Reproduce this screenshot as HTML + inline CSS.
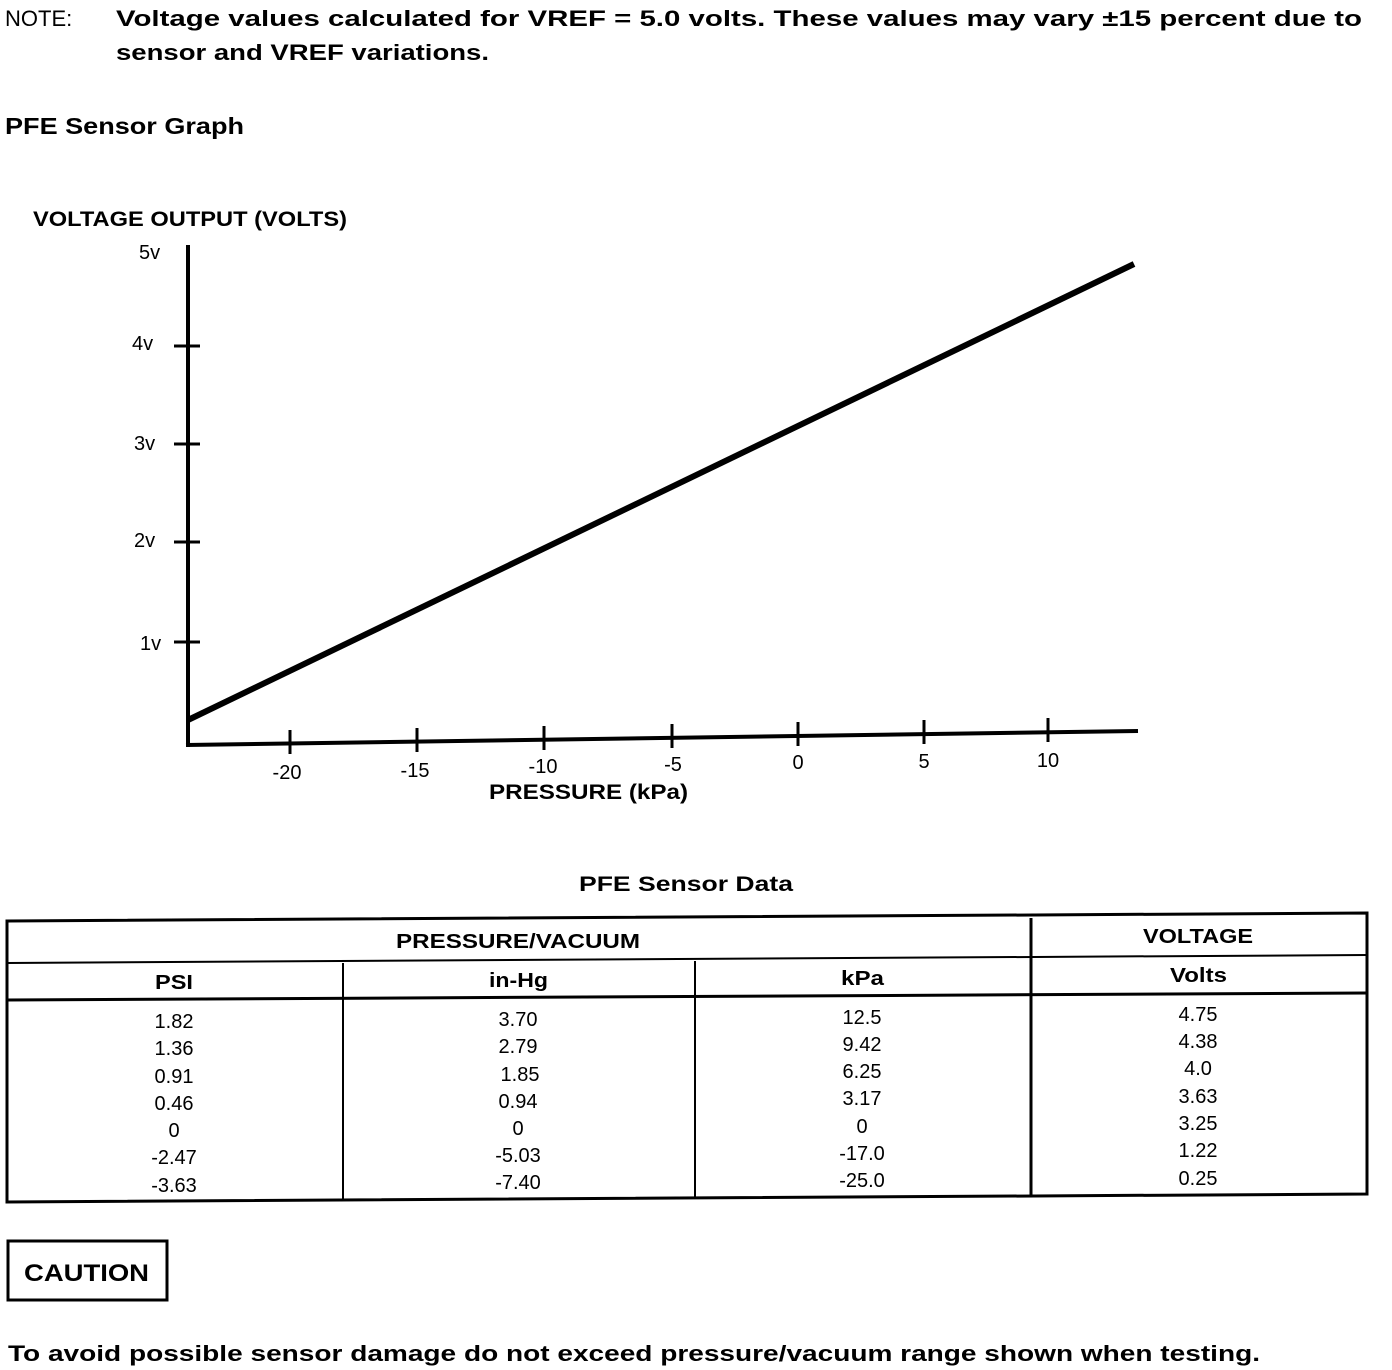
<!DOCTYPE html>
<html><head><style>
html,body{margin:0;padding:0;background:#fff;}
svg{display:block;}
text{font-family:"Liberation Sans",Arial,sans-serif;fill:#000;}
.b{font-weight:bold;}
</style></head><body>
<svg width="1392" height="1370" viewBox="0 0 1392 1370" xmlns="http://www.w3.org/2000/svg">
<text x="5" y="26" font-size="22">NOTE:</text>
<text x="116" y="26" font-size="22" class="b" textLength="1246" lengthAdjust="spacingAndGlyphs">Voltage values calculated for VREF = 5.0 volts. These values may vary ±15 percent due to</text>
<text x="116" y="60" font-size="22" class="b" textLength="373" lengthAdjust="spacingAndGlyphs">sensor and VREF variations.</text>
<text x="5" y="134" font-size="23" class="b" textLength="239" lengthAdjust="spacingAndGlyphs">PFE Sensor Graph</text>
<text x="33" y="226" font-size="21" class="b" textLength="314" lengthAdjust="spacingAndGlyphs">VOLTAGE OUTPUT (VOLTS)</text>
<line x1="188" y1="245" x2="188" y2="747" stroke="#000" stroke-width="4"/>
<line x1="186" y1="745" x2="1138" y2="731" stroke="#000" stroke-width="4"/>
<g stroke="#000" stroke-width="3">
<line x1="174" y1="346" x2="200" y2="346"/>
<line x1="174" y1="444" x2="200" y2="444"/>
<line x1="174" y1="542" x2="200" y2="542"/>
<line x1="174" y1="642" x2="200" y2="642"/>
<line x1="290" y1="730" x2="290" y2="754"/>
<line x1="417" y1="728" x2="417" y2="752"/>
<line x1="544" y1="726" x2="544" y2="750"/>
<line x1="672" y1="724" x2="672" y2="748"/>
<line x1="798" y1="722" x2="798" y2="746"/>
<line x1="924" y1="720" x2="924" y2="744"/>
<line x1="1048" y1="718" x2="1048" y2="742"/>
</g>
<g font-size="20">
<text x="139" y="259">5v</text>
<text x="132" y="350">4v</text>
<text x="134" y="450">3v</text>
<text x="134" y="547">2v</text>
<text x="140" y="650">1v</text>
</g>
<g font-size="20" text-anchor="middle">
<text x="287" y="779">-20</text>
<text x="415" y="777">-15</text>
<text x="543" y="773">-10</text>
<text x="673" y="771">-5</text>
<text x="798" y="769">0</text>
<text x="924" y="768">5</text>
<text x="1048" y="767">10</text>
</g>
<text x="489" y="799" font-size="21" class="b" textLength="199" lengthAdjust="spacingAndGlyphs">PRESSURE (kPa)</text>
<line x1="188" y1="720" x2="1134" y2="264" stroke="#000" stroke-width="6"/>
<text x="579" y="891" font-size="21" class="b" textLength="214" lengthAdjust="spacingAndGlyphs">PFE Sensor Data</text>
<g stroke="#000" fill="none">
<polygon points="7,921 1367,913 1367,1194 7,1202" stroke-width="3"/>
<line x1="7" y1="963" x2="1367" y2="955" stroke-width="2"/>
<line x1="7" y1="1000" x2="1367" y2="993" stroke-width="3"/>
<line x1="343" y1="963" x2="343" y2="1201" stroke-width="2"/>
<line x1="695" y1="961" x2="695" y2="1198" stroke-width="2"/>
<line x1="1031" y1="918" x2="1031" y2="1196" stroke-width="3"/>
</g>
<g font-size="20" class="b">
<text x="396" y="948" textLength="244" lengthAdjust="spacingAndGlyphs">PRESSURE/VACUUM</text>
<text x="1143" y="943" textLength="110" lengthAdjust="spacingAndGlyphs">VOLTAGE</text>
<text x="155" y="989" textLength="38" lengthAdjust="spacingAndGlyphs">PSI</text>
<text x="489" y="987" textLength="59" lengthAdjust="spacingAndGlyphs">in-Hg</text>
<text x="841" y="985" textLength="43" lengthAdjust="spacingAndGlyphs">kPa</text>
<text x="1170" y="982" textLength="57" lengthAdjust="spacingAndGlyphs">Volts</text>
</g>
<g font-size="20" text-anchor="middle">
<text x="174" y="1028">1.82</text><text x="174" y="1055">1.36</text><text x="174" y="1083">0.91</text><text x="174" y="1110">0.46</text><text x="174" y="1137">0</text><text x="174" y="1164">-2.47</text><text x="174" y="1192">-3.63</text>
<text x="518" y="1026">3.70</text><text x="518" y="1053">2.79</text><text x="520" y="1081">1.85</text><text x="518" y="1108">0.94</text><text x="518" y="1135">0</text><text x="518" y="1162">-5.03</text><text x="518" y="1189">-7.40</text>
<text x="862" y="1024">12.5</text><text x="862" y="1051">9.42</text><text x="862" y="1078">6.25</text><text x="862" y="1105">3.17</text><text x="862" y="1133">0</text><text x="862" y="1160">-17.0</text><text x="862" y="1187">-25.0</text>
<text x="1198" y="1021">4.75</text><text x="1198" y="1048">4.38</text><text x="1198" y="1075">4.0</text><text x="1198" y="1103">3.63</text><text x="1198" y="1130">3.25</text><text x="1198" y="1157">1.22</text><text x="1198" y="1185">0.25</text>
</g>
<rect x="8" y="1241" width="159" height="59" fill="none" stroke="#000" stroke-width="3"/>
<text x="24" y="1281" font-size="24" class="b" textLength="125" lengthAdjust="spacingAndGlyphs">CAUTION</text>
<text x="8" y="1361" font-size="22" class="b" textLength="1252" lengthAdjust="spacingAndGlyphs">To avoid possible sensor damage do not exceed pressure/vacuum range shown when testing.</text>
</svg>
</body></html>
